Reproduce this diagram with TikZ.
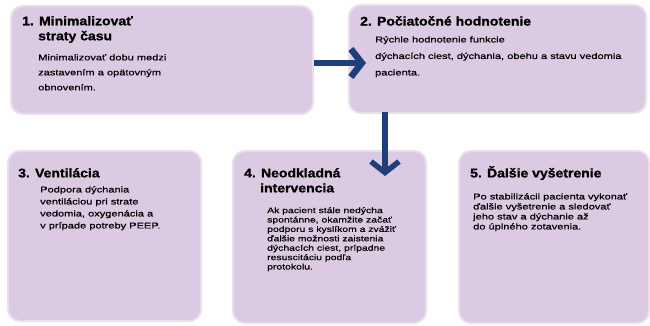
\documentclass[tikz,border=0pt]{standalone}
\usepackage{fontspec}
\setmainfont{Liberation Sans}
\newfontfamily\ttlfont[FakeStretch=1.12,FakeBold=1.2]{Liberation Sans}
\newfontfamily\bodyfont[FakeStretch=1.3,FakeBold=0.5]{Liberation Sans}
\usetikzlibrary{arrows.meta}
\definecolor{boxfill}{HTML}{DCCAE2}
\definecolor{boxedge}{HTML}{E9DEEC}
\definecolor{arrowblue}{HTML}{1F3F7A}
\tikzset{
  card/.style={draw=boxedge, line width=2pt, fill=boxfill, rounded corners=12pt, anchor=north west, inner sep=0pt},
  ttl/.style={anchor=north west, align=left, font=\ttlfont\bfseries\fontsize{12.5}{15}\selectfont, inner sep=0pt},
  bodytxt/.style={anchor=north west, align=left, inner sep=0pt},
  flow/.style={arrowblue, line width=6.5pt, -{Straight Barb[length=11pt,width=28pt]}}
}
\begin{document}
\begin{tikzpicture}[x=1pt,y=-1pt]
\useasboundingbox (0,0) rectangle (650,326);
\fill[white] (0,0) rectangle (650,326);
% cards
\node[card, minimum width=302pt, minimum height=108pt] (b1) at (10,5) {};
\node[card, minimum width=297pt, minimum height=108pt] (b2) at (348,4) {};
\node[card, minimum width=193pt, minimum height=170pt] (b3) at (7,150) {};
\node[card, minimum width=193pt, minimum height=172pt] (b4) at (232,150) {};
\node[card, minimum width=190pt, minimum height=172pt] (b5) at (458,150) {};
% texts
\node[ttl] (t1) at (22,16) {1. Minimalizovať\\\hspace*{16pt}straty času};
\node[bodytxt, font=\bodyfont\fontsize{8.5}{15}\selectfont] (d1) at (38,54) {Minimalizovať dobu medzi\\zastavením a opätovným\\obnovením.};
\node[ttl] (t2) at (360,16) {2. Počiatočné hodnotenie};
\node[bodytxt, font=\bodyfont\fontsize{8.5}{16.5}\selectfont] (d2) at (375,36) {Rýchle hodnotenie funkcie\\dýchacích ciest, dýchania, obehu a stavu vedomia\\pacienta.};
\node[ttl] (t3) at (18,168) {3. Ventilácia};
\node[bodytxt, font=\bodyfont\fontsize{8.5}{12}\selectfont] (d3) at (40,186) {Podpora dýchania\\ventiláciou pri strate\\vedomia, oxygenácia a\\v prípade potreby PEEP.};
\node[ttl] (t4) at (244,168) {4. Neodkladná\\\hspace*{16pt}intervencia};
\node[bodytxt, font=\bodyfont\fontsize{8}{9.4}\selectfont] (d4) at (267,207) {Ak pacient stále nedýcha\\spontánne, okamžite začať\\podporu s kyslíkom a zvážiť\\ďalšie možnosti zaistenia\\dýchacích ciest, prípadne\\resuscitáciu podľa\\protokolu.};
\node[ttl] (t5) at (470,166) {5. Ďalšie vyšetrenie};
\node[bodytxt, font=\bodyfont\fontsize{8.5}{10}\selectfont] (d5) at (473,193) {Po stabilizácii pacienta vykonať\\ďalšie vyšetrenie a sledovať\\jeho stav a dýchanie až\\do úplného zotavenia.};
% arrows
\coordinate (h2) at (366,63);
\coordinate (v1) at (385,112);
\coordinate (v2) at (385,176);
\draw[flow] (b1.east |- h2) -- (h2);
\draw[flow, line width=5.5pt] (v1) -- (v2);
\end{tikzpicture}
\end{document}
